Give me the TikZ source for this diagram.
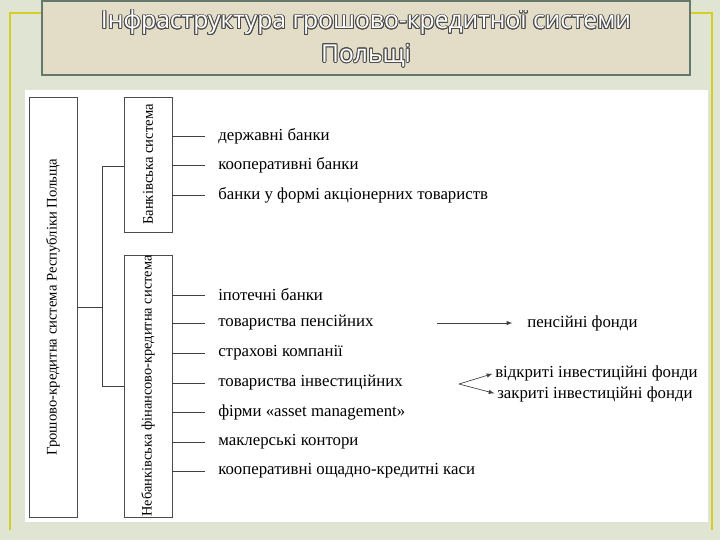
\documentclass[tikz,border=0pt]{standalone}
\usepackage{fontspec}
\setmainfont{Liberation Serif}
\newfontfamily\titlefont{Open Sans}
\usepackage[copies]{contour}
\contourlength{0.7pt}
\begin{document}
\begin{tikzpicture}[x=0.75pt,y=-0.75pt,
  box/.style={draw=black!70,line width=0.5pt},
  item/.style={anchor=west,inner sep=0pt,font=\fontsize{12.6}{14}\selectfont},
  rot/.style={rotate=90,font=\fontsize{11}{13}\selectfont},
  ln/.style={draw=black!75,line width=0.5pt}]
\useasboundingbox (0,0) rectangle (720,540);
\fill[color={rgb,255:red,223;green,228;blue,211}] (0,0) rectangle (720,540);
\draw[color={rgb,255:red,214;green,206;blue,40},line width=1.2pt] (10,530) -- (10,13) -- (712,13) -- (712,530);
\fill[white] (25,90) rectangle (708,522);
\node[draw={rgb,255:red,100;green,120;blue,110},line width=0.8pt,fill={rgb,255:red,227;green,221;blue,200},minimum width=648*0.75pt,minimum height=74*0.75pt,inner sep=0pt] (title) at (366,38) {};
\node[align=center,font=\titlefont\fontsize{18.5}{25}\selectfont] (tt) at (366,39) {\contour{black!70}{\textcolor{white}{Інфраструктура грошово-кредитної системи}}\\\contour{black!70}{\textcolor{white}{Польщі}}};
% boxes
\node[box,minimum width=48*0.75pt,minimum height=420*0.75pt] (main) at (53,307) {};
\node[rot] (maint) at (main.center) {Грошово-кредитна система Республіки Польща};
\node[box,minimum width=48*0.75pt,minimum height=135*0.75pt] (bank) at (148,164.5) {};
\node[rot] (bankt) at (bank.center) {Банківська система};
\node[box,minimum width=48*0.75pt,minimum height=262*0.75pt] (nb) at (148,386) {};
\node[rot,font=\fontsize{10.8}{13}\selectfont] (nbt) at (nb.center) {Небанківська фінансово-кредитна система};
\coordinate (j1) at (102,307);
\coordinate (j2) at (102,166);
\coordinate (j3) at (102,386);
\draw[ln] (main.east |- j1) -- (j1);
\draw[ln] (bank.west |- j2) -- (j2) -- (j3) -- (nb.west |- j3);
% bank items
\foreach \n/\y/\t in {b1/136/державні банки,b2/165/кооперативні банки,b3/195/банки у формі акціонерних товариств}{
  \node[item] (\n) at (218,\y) {\t};
  \coordinate (\n s) at (205,\y);
  \draw[ln] (bank.east |- \n s) -- (\n s);
}
\foreach \n/\y/\t in {n1/295/іпотечні банки,n2/323/товариства пенсійних,n3/353/страхові компанії,n4/383/товариства інвестиційних,n5/412/фірми «asset management»,n6/442/маклерські контори,n7/471/кооперативні ощадно-кредитні каси}{
  \node[item] (\n) at (218,\y) {\t};
  \coordinate (\n s) at (205,\y);
  \draw[ln] (nb.east |- \n s) -- (\n s);
}
\node[item] (pf) at (527,323) {пенсійні фонди};
\coordinate (a1) at (437,323);
\draw[ln,-latex,shorten >=11pt] (a1) -- (pf.west);
\node[item] (vf) at (495,373) {відкриті інвестиційні фонди};
\node[item] (zf) at (497,394) {закриті інвестиційні фонди};
\coordinate (s) at (459,384);
\draw[ln,-latex,shorten >=2pt] (s) -- (vf.west);
\draw[ln,-latex,shorten >=2pt] (s) -- (zf.west);
\end{tikzpicture}
\end{document}
